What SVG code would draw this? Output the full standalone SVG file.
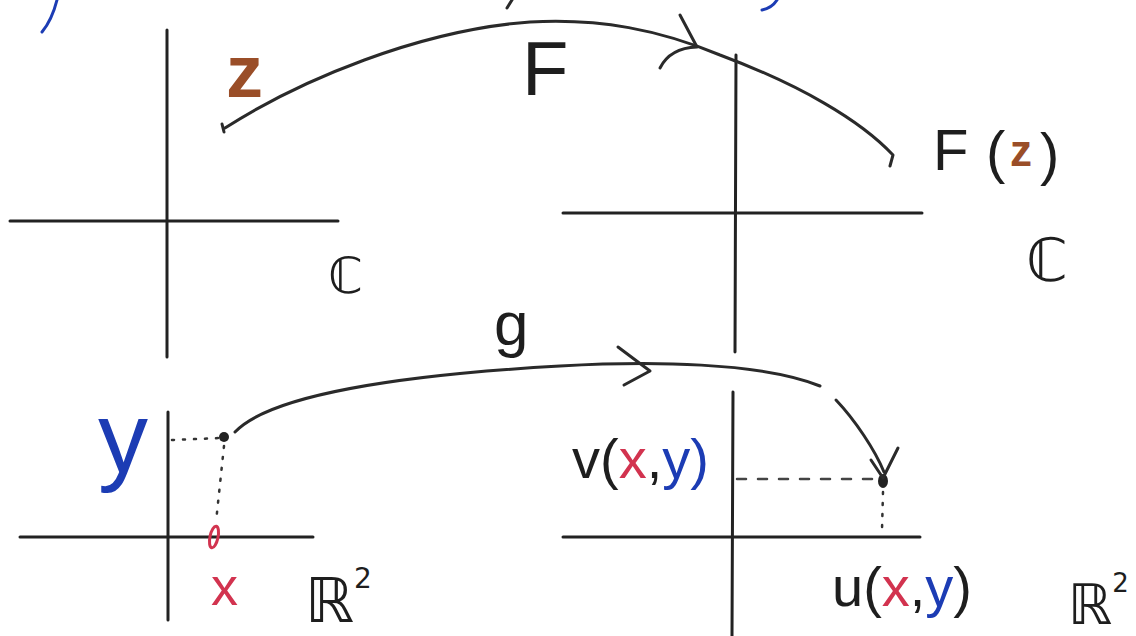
<svg xmlns="http://www.w3.org/2000/svg" width="1136" height="636" viewBox="0 0 1136 636">
<style>
.axis{stroke:#222;stroke-width:3;fill:none;stroke-linecap:round}
.ink{stroke:#2a2a2a;stroke-width:3;fill:none;stroke-linecap:round;stroke-linejoin:round}
.dot{stroke:#333;stroke-width:2.5;fill:none;stroke-dasharray:2 9;stroke-linecap:round}
.dash{stroke:#444;stroke-width:2.5;fill:none;stroke-dasharray:9 12;stroke-linecap:round}
.t{font-family:"Liberation Sans","DejaVu Sans",sans-serif;fill:#1e1e1e}
.ds{font-family:"DejaVu Sans","Liberation Sans",sans-serif;fill:#1e1e1e}
.blue{fill:#1c3cb4}
.red{fill:#d2334f}
.brown{fill:#9a4e28}
</style>
<rect width="1136" height="636" fill="#ffffff"/>

<g id="top-fragments">
<path d="M57,0 Q52,20 42,32" stroke="#1c3cb4" stroke-width="3" fill="none" stroke-linecap="round"/>
<path d="M512,0 L507,8" class="ink"/>
<path d="M777,0 Q772,8 762,10" stroke="#1c3cb4" stroke-width="3" fill="none" stroke-linecap="round"/>
</g>

<g id="plane-C-left">
<line class="axis" x1="167" y1="30" x2="167" y2="357"/>
<line class="axis" x1="10" y1="221" x2="338" y2="221"/>
<text class="ds" x="328" y="293" font-size="50">ℂ</text>
<text class="t brown" x="226" y="97" font-size="74" font-weight="bold">z</text>
</g>

<g id="plane-C-right">
<line class="axis" x1="736" y1="55" x2="735" y2="352"/>
<line class="axis" x1="563" y1="213" x2="922" y2="213"/>
<text class="ds" x="1026" y="281" font-size="60">ℂ</text>
<text class="t" font-size="58"><tspan x="933" y="170">F</tspan><tspan x="986" y="172">(</tspan><tspan x="1010" y="166" class="brown" font-weight="bold" font-size="44">z</tspan><tspan x="1040" y="174">)</tspan></text>
</g>

<g id="plane-R2-left">
<line class="axis" x1="168" y1="412" x2="168" y2="620"/>
<line class="axis" x1="20" y1="537" x2="313" y2="537"/>
<path class="dot" d="M172,440 L220,438"/>
<path class="dot" d="M224,446 L216,522"/>
<ellipse cx="224" cy="437" rx="5" ry="5" fill="#222"/>
<ellipse cx="214" cy="537" rx="4" ry="11" transform="rotate(12 214 537)" fill="none" stroke="#d2334f" stroke-width="3"/>
<text class="t blue" x="98" y="472" font-size="100">y</text>
<text class="t red" x="211" y="605" font-size="54">x</text>
<text class="ds" x="305" y="622" font-size="62">ℝ<tspan dy="-34" font-size="28">2</tspan></text>
</g>

<g id="plane-R2-right">
<line class="axis" x1="733" y1="392" x2="732" y2="636"/>
<line class="axis" x1="563" y1="537" x2="920" y2="537"/>
<path class="dash" d="M737,479 L872,479"/>
<path class="dot" d="M883,492 L882,530"/>
<ellipse cx="883" cy="481" rx="5" ry="7" fill="#222"/>
<text class="t" font-size="56"><tspan x="572" y="478">v(</tspan><tspan class="red">x</tspan><tspan>,</tspan><tspan class="blue">y)</tspan></text>
<text class="t" font-size="56"><tspan x="832" y="606">u(</tspan><tspan class="red">x</tspan><tspan>,</tspan><tspan class="blue">y</tspan><tspan>)</tspan></text>
<text class="ds" x="1068" y="624" font-size="56">ℝ<tspan dy="-32" font-size="26">2</tspan></text>
</g>

<g id="connectors">
<path class="ink" d="M225,128 C300,80 420,30 530,22 C600,18 660,30 720,55 C800,85 860,120 893,155 L890,166"/>
<path class="ink" d="M222,124 L224,132"/>
<path class="ink" d="M680,15 L697,47 M660,68 Q670,48 697,47"/>
<text class="t" x="522" y="95" font-size="76">F</text>
<path class="ink" d="M235,432 C270,395 400,375 560,366 C650,361 760,362 820,386"/>
<path class="ink" d="M836,400 C855,420 875,450 884,472"/>
<path class="ink" d="M618,347 L650,371 L624,385"/>
<path class="ink" d="M871,460 L883,478 L898,448"/>
<text class="t" x="494" y="345" font-size="62">g</text>
</g>
</svg>
